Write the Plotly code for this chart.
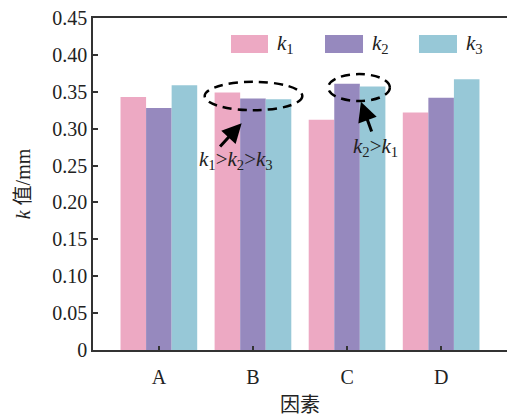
import plotly.graph_objects as go

# Factor levels and mean k values (mm) for each level
factors = ["A", "B", "C", "D"]
k1 = [0.343, 0.349, 0.312, 0.322]
k2 = [0.328, 0.341, 0.361, 0.342]
k3 = [0.359, 0.340, 0.357, 0.367]
series_names = ["<i>k</i><sub>1</sub>", "<i>k</i><sub>2</sub>", "<i>k</i><sub>3</sub>"]
colors = ["#EDA9C3", "#9689BE", "#97C8D7"]
y_ticks = [0, 0.05, 0.10, 0.15, 0.20, 0.25, 0.30, 0.35, 0.40, 0.45]
y_tick_text = ["0"] + [f"{v:.2f}" for v in y_ticks[1:]]

FONT = "Liberation Serif, Times New Roman, Noto Sans CJK SC, serif"
AXIS_COLOR = "#333333"

fig = go.Figure()
for name, vals, c in zip(series_names, [k1, k2, k3], colors):
    fig.add_trace(go.Bar(x=factors, y=vals, name=name, marker=dict(color=c, line=dict(width=0)),
                         showlegend=False))

# Hand-drawn style legend: wide swatches with italic labels
sw_x = [(0.3333, 0.4227), (0.5604, 0.6522), (0.7874, 0.8792)]
shapes = []
annotations = []
for (x0, x1), c, name in zip(sw_x, colors, series_names):
    shapes.append(dict(type="rect", xref="paper", yref="paper", x0=x0, x1=x1, y0=0.8946, y1=0.9488,
                       fillcolor=c, line=dict(width=0)))
    annotations.append(dict(xref="paper", yref="paper", x=x1 + 0.017, y=0.9217, text=name,
                            showarrow=False, xanchor="left", yanchor="middle",
                            font=dict(family=FONT, size=21, color="#222")))

# Dashed ellipses highlighting groups B and C
dash_style = "9px,6px"
shapes.append(dict(type="circle", xref="x", yref="y", x0=0.487, x1=1.525, y0=0.325, y1=0.3635,
                   line=dict(color="black", width=2.5, dash=dash_style)))
shapes.append(dict(type="circle", xref="x", yref="y", x0=1.80, x1=2.455, y0=0.3375, y1=0.374,
                   line=dict(color="black", width=2.5, dash=dash_style)))

# Arrows and comparison notes
annotations.append(dict(x=0.88, y=0.3075, ax=0.636, ay=0.2738, xref="x", yref="y", axref="x", ayref="y",
                        text="", showarrow=True, arrowhead=2, arrowsize=1.3, arrowwidth=3, arrowcolor="black"))
annotations.append(dict(x=2.147, y=0.3365, ax=2.267, ay=0.294, xref="x", yref="y", axref="x", ayref="y",
                        text="", showarrow=True, arrowhead=2, arrowsize=1.3, arrowwidth=3, arrowcolor="black"))
annotations.append(dict(x=0.816, y=0.2575, xref="x", yref="y", showarrow=False,
                        text="<i>k</i><sub>1</sub>&gt;<i>k</i><sub>2</sub>&gt;<i>k</i><sub>3</sub>",
                        font=dict(family=FONT, size=21, color="#222")))
annotations.append(dict(x=2.299, y=0.275, xref="x", yref="y", showarrow=False,
                        text="<i>k</i><sub>2</sub>&gt;<i>k</i><sub>1</sub>",
                        font=dict(family=FONT, size=21, color="#222")))

fig.update_layout(
    width=507, height=418,
    margin=dict(l=93, r=0, t=18, b=68),
    paper_bgcolor="white", plot_bgcolor="white",
    barmode="group", bargap=0.185, bargroupgap=0,
    font=dict(family=FONT, size=20, color="#222"),
    shapes=shapes, annotations=annotations,
    xaxis=dict(range=[-0.7, 3.7], showline=True, mirror=True, linecolor=AXIS_COLOR, linewidth=1.5,
               ticks="inside", ticklen=4, tickwidth=1.5, tickcolor=AXIS_COLOR, showgrid=False,
               ticklabelstandoff=8,
               tickfont=dict(family=FONT, size=20, color="#222"),
               title=dict(text="因素", font=dict(family="Noto Sans CJK SC", size=20, color="#222"), standoff=14)),
    yaxis=dict(range=[0, 0.45], tickvals=y_ticks, ticktext=y_tick_text, showline=True, linecolor=AXIS_COLOR,
               linewidth=1.5, ticks="inside", ticklen=5, tickwidth=1.5, tickcolor=AXIS_COLOR,
               showgrid=False, zeroline=False,
               tickfont=dict(family=FONT, size=20, color="#222"),
               title=dict(text="<i>k</i> 值/mm", font=dict(family=FONT, size=20, color="#222"), standoff=16)),
)

fig.write_html("out.html")
